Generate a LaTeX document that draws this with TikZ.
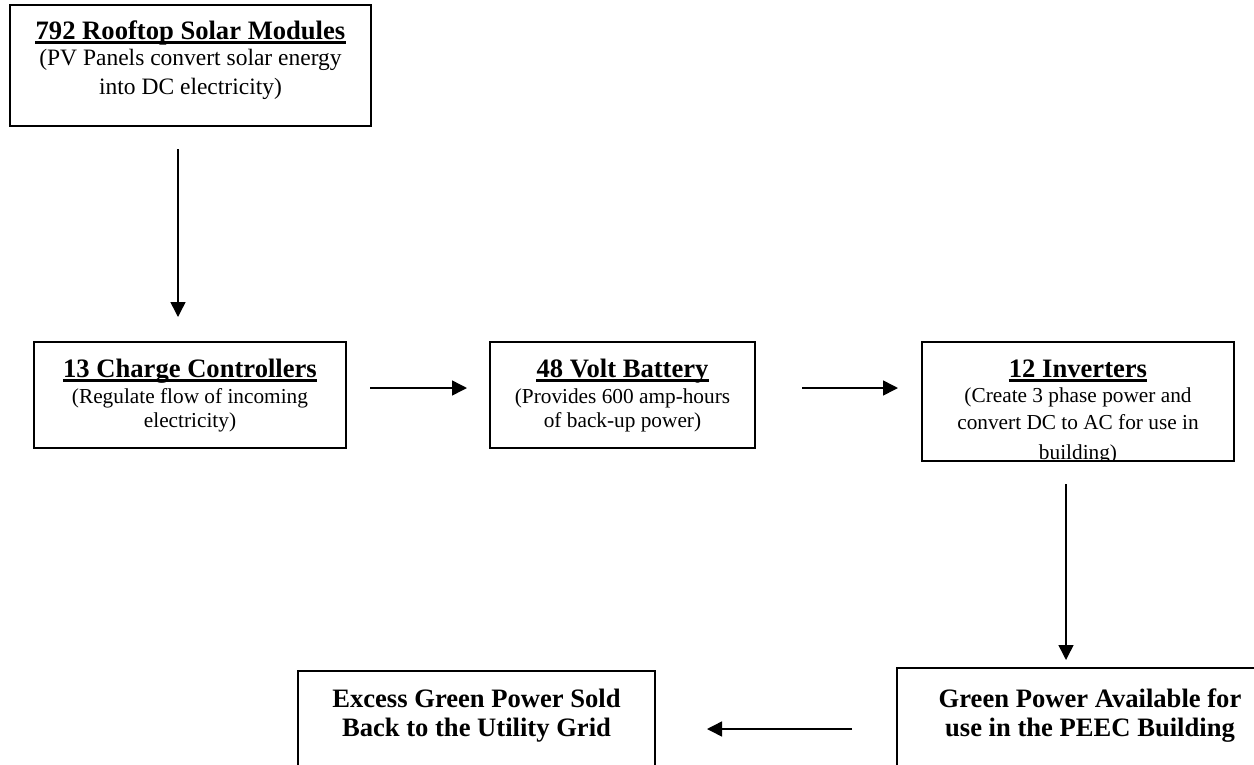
\documentclass[tikz,border=0pt]{standalone}
\usepackage{fontspec}
\setmainfont{Liberation Serif}
\usetikzlibrary{arrows.meta}
\begin{document}
\begin{tikzpicture}[x=1pt,y=-1pt,
  box/.style={draw, line width=1.6pt, rectangle, inner sep=0pt, outer sep=0pt},
  ttl/.style={anchor=base, inner sep=0pt, font=\fontsize{26.6}{30}\selectfont\bfseries},
  bodyA/.style={anchor=base, inner sep=0pt, font=\fontsize{23.5}{28}\selectfont},
  bodyB/.style={anchor=base, inner sep=0pt, font=\fontsize{21.3}{25}\selectfont},
  uline/.style={line width=2.6pt},
  arr/.style={line width=1.5pt, -{Triangle[width=15pt,length=15pt]}}]
\useasboundingbox (0,0) rectangle (1254,764);
\clip (0,0) rectangle (1254,764);

% boxes
\node[box, minimum width=361pt, minimum height=121pt] (b1) at (190.5,65.5) {};
\node[box, minimum width=312pt, minimum height=106pt] (b2) at (190,395) {};
\node[box, minimum width=265pt, minimum height=106pt] (b3) at (622.5,395) {};
\node[box, minimum width=312pt, minimum height=119pt] (b4) at (1078,401.5) {};
\node[box, minimum width=357pt, minimum height=229pt] (b5) at (476.5,785.5) {};
\node[box, minimum width=386pt, minimum height=232pt] (b6) at (1090,784) {};

% box 1 text
\node[ttl] (t1a) at (190.5,39) {792 Rooftop Solar Modules};
\draw[uline] ([yshift=-3.3pt]t1a.base west) -- ([yshift=-3.3pt]t1a.base east);
\node[bodyA] (t1b) at (190.5,65.5) {(PV Panels convert solar energy};
\node[bodyA] (t1c) at (190.5,94.5) {into DC electricity)};

% box 2 text
\node[ttl] (t2a) at (190,377) {13 Charge Controllers};
\draw[uline] ([yshift=-3.3pt]t2a.base west) -- ([yshift=-3.3pt]t2a.base east);
\node[bodyB] (t2b) at (190,403) {(Regulate flow of incoming};
\node[bodyB] (t2c) at (190,427) {electricity)};

% box 3 text
\node[ttl] (t3a) at (622.5,377) {48 Volt Battery};
\draw[uline] ([yshift=-3.3pt]t3a.base west) -- ([yshift=-3.3pt]t3a.base east);
\node[bodyB] (t3b) at (622.5,403) {(Provides 600 amp-hours};
\node[bodyB] (t3c) at (622.5,427) {of back-up power)};

% box 4 text (clipped by its frame)
\begin{scope}
\clip (b4.north west) rectangle (b4.south east);
\node[ttl] (t4a) at (1078,377) {12 Inverters};
\draw[uline] ([yshift=-3.3pt]t4a.base west) -- ([yshift=-3.3pt]t4a.base east);
\node[bodyB] (t4b) at (1078,402) {(Create 3 phase power and};
\node[bodyB] (t4c) at (1078,429) {convert DC to AC for use in};
\node[bodyB] (t4d) at (1078,459) {building)};
\end{scope}
\node[box, minimum width=312pt, minimum height=119pt] (b4f) at (b4) {};

% bottom boxes text
\node[ttl] (t5a) at (476.5,707) {Excess Green Power Sold};
\node[ttl] (t5b) at (476.5,736) {Back to the Utility Grid};
\node[ttl] (t6a) at (1090,707) {Green Power Available for};
\node[ttl] (t6b) at (1090,736) {use in the PEEC Building};

% connectors
\coordinate (r) at (0,388);
\coordinate (r2) at (0,729);
\draw[arr, shorten <=23pt, shorten >=25pt] ([xshift=-12.5pt]b1.south) -- ([xshift=-12.5pt]b1.south |- b2.north);
\draw[arr, shorten <=24pt, shorten >=23pt] (b2.east |- r) -- (b3.west |- r);
\draw[arr, shorten <=47pt, shorten >=24pt] (b3.east |- r) -- (b4.west |- r);
\draw[arr, shorten <=23pt, shorten >=8pt] ([xshift=-12pt]b4.south) -- ([xshift=-12pt]b4.south |- b6.north);
\draw[arr, shorten <=45pt, shorten >=52pt] (b6.west |- r2) -- (b5.east |- r2);
\end{tikzpicture}
\end{document}
